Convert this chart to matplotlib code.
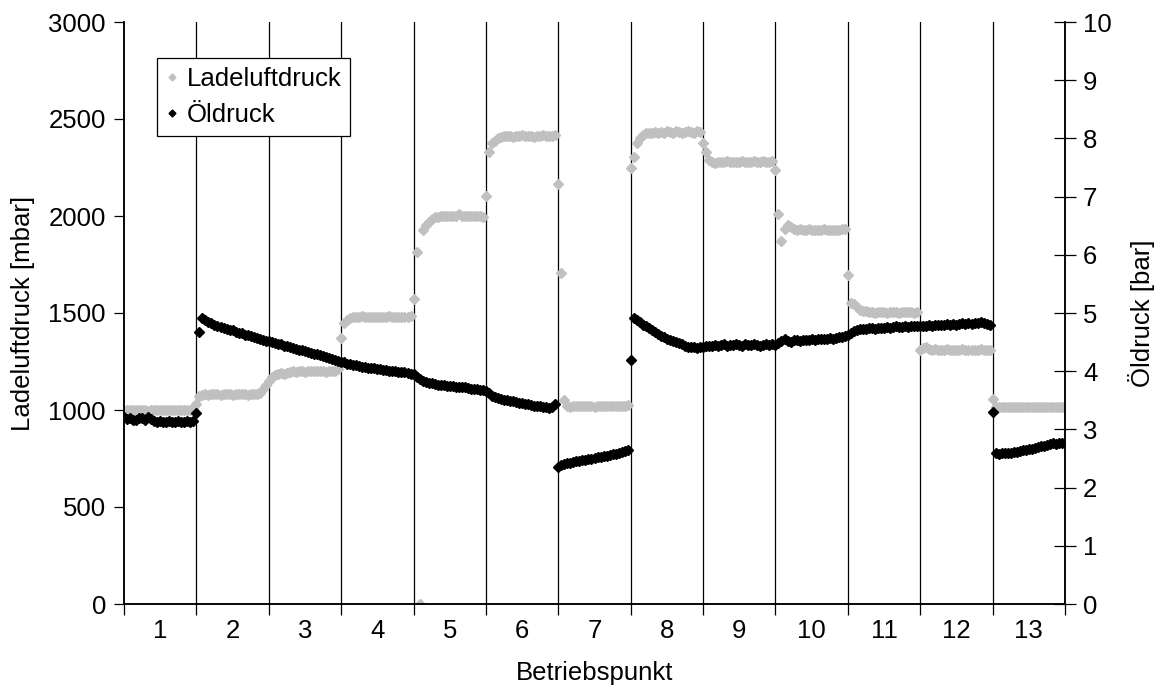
import numpy as np
import matplotlib
matplotlib.use("Agg")
import matplotlib.pyplot as plt
from matplotlib.lines import Line2D

plt.rcParams['font.family'] = ['Liberation Sans', 'DejaVu Sans']

betriebspunkte = [str(i) for i in range(1, 14)]

# Ladeluftdruck [mbar], samples per Betriebspunkt
lade = [
    [995, 1000, 998, 1000, 1002, 998, 1000, 1000, 997, 1000, 1001, 999, 1000, 998, 1000, 1002, 1000, 999, 1000, 998, 1000, 1001, 1000, 1005],
    [1030, 1070, 1078, 1080, 1078, 1080, 1082, 1080, 1079, 1080, 1081, 1080, 1078, 1080, 1080, 1082, 1080, 1079, 1080, 1081, 1085, 1090, 1110, 1130],
    [1150, 1170, 1178, 1185, 1190, 1188, 1192, 1195, 1200, 1198, 1200, 1200, 1198, 1200, 1202, 1200, 1199, 1200, 1200, 1198, 1200, 1201, 1200, 1210],
    [1370, 1450, 1465, 1475, 1480, 1478, 1480, 1482, 1480, 1479, 1480, 1481, 1480, 1478, 1480, 1480, 1482, 1480, 1479, 1480, 1481, 1480, 1480, 1485],
    [1570, 1815, 0, 1930, 1955, 1970, 1985, 1995, 1995, 2000, 1998, 2000, 2002, 2000, 1998, 2010, 2000, 1999, 2000, 2000, 1998, 2000, 2000, 1995],
    [2103, 2330, 2375, 2385, 2400, 2405, 2410, 2412, 2410, 2408, 2412, 2410, 2415, 2410, 2412, 2410, 2408, 2412, 2410, 2418, 2412, 2410, 2412, 2415],
    [2165, 1706, 1050, 1020, 1018, 1020, 1020, 1019, 1020, 1021, 1020, 1020, 1018, 1020, 1020, 1021, 1020, 1019, 1020, 1020, 1021, 1020, 1020, 1025],
    [2247, 2304, 2376, 2400, 2415, 2428, 2430, 2428, 2432, 2430, 2435, 2430, 2438, 2432, 2430, 2440, 2432, 2430, 2435, 2438, 2432, 2430, 2440, 2435],
    [2376, 2330, 2290, 2278, 2275, 2280, 2278, 2280, 2282, 2278, 2280, 2279, 2280, 2282, 2278, 2280, 2280, 2281, 2278, 2280, 2282, 2280, 2278, 2285],
    [2237, 2010, 1871, 1933, 1955, 1945, 1935, 1930, 1935, 1928, 1930, 1932, 1928, 1930, 1930, 1928, 1932, 1930, 1928, 1930, 1930, 1928, 1932, 1935],
    [1696, 1552, 1545, 1530, 1515, 1510, 1508, 1505, 1505, 1502, 1505, 1503, 1505, 1502, 1505, 1503, 1505, 1502, 1505, 1503, 1505, 1505, 1502, 1505],
    [1310, 1322, 1325, 1315, 1310, 1312, 1310, 1308, 1310, 1312, 1310, 1308, 1310, 1310, 1312, 1308, 1310, 1310, 1308, 1310, 1312, 1310, 1308, 1310],
    [1057, 1015, 1015, 1016, 1015, 1014, 1015, 1016, 1015, 1015, 1014, 1015, 1016, 1015, 1015, 1014, 1015, 1016, 1015, 1015, 1014, 1015, 1016, 1015],
]

# Öldruck [bar], samples per Betriebspunkt
oel = [
    [3.22, 3.18, 3.20, 3.17, 3.16, 3.20, 3.19, 3.17, 3.22, 3.18, 3.15, 3.13, 3.14, 3.13, 3.13, 3.14, 3.13, 3.13, 3.14, 3.13, 3.13, 3.14, 3.13, 3.15],
    [3.28, 4.68, 4.92, 4.88, 4.84, 4.82, 4.80, 4.78, 4.76, 4.75, 4.73, 4.71, 4.70, 4.68, 4.66, 4.65, 4.63, 4.62, 4.60, 4.58, 4.57, 4.55, 4.54, 4.52],
    [4.52, 4.50, 4.49, 4.47, 4.46, 4.44, 4.43, 4.42, 4.40, 4.39, 4.37, 4.36, 4.35, 4.33, 4.32, 4.30, 4.29, 4.28, 4.26, 4.25, 4.23, 4.21, 4.20, 4.18],
    [4.16, 4.15, 4.13, 4.12, 4.11, 4.10, 4.09, 4.08, 4.07, 4.06, 4.06, 4.05, 4.04, 4.03, 4.02, 4.02, 4.01, 4.00, 4.00, 3.99, 3.98, 3.98, 3.97, 3.96],
    [3.95, 3.90, 3.86, 3.83, 3.81, 3.80, 3.79, 3.78, 3.77, 3.77, 3.76, 3.75, 3.75, 3.74, 3.73, 3.73, 3.72, 3.72, 3.71, 3.70, 3.70, 3.69, 3.68, 3.68],
    [3.66, 3.62, 3.58, 3.56, 3.54, 3.52, 3.51, 3.50, 3.49, 3.48, 3.47, 3.46, 3.45, 3.44, 3.43, 3.42, 3.41, 3.40, 3.40, 3.39, 3.38, 3.37, 3.38, 3.44],
    [2.36, 2.38, 2.40, 2.42, 2.43, 2.44, 2.45, 2.46, 2.47, 2.48, 2.49, 2.50, 2.51, 2.52, 2.53, 2.54, 2.55, 2.56, 2.57, 2.58, 2.60, 2.61, 2.63, 2.65],
    [4.19, 4.92, 4.88, 4.84, 4.80, 4.77, 4.74, 4.71, 4.68, 4.64, 4.61, 4.58, 4.56, 4.54, 4.52, 4.50, 4.48, 4.46, 4.44, 4.42, 4.42, 4.41, 4.40, 4.41],
    [4.42, 4.43, 4.44, 4.44, 4.45, 4.44, 4.45, 4.46, 4.44, 4.45, 4.45, 4.46, 4.45, 4.44, 4.46, 4.45, 4.45, 4.46, 4.45, 4.44, 4.45, 4.46, 4.45, 4.46],
    [4.45, 4.48, 4.52, 4.56, 4.52, 4.50, 4.53, 4.54, 4.52, 4.53, 4.54, 4.53, 4.55, 4.54, 4.55, 4.56, 4.55, 4.56, 4.57, 4.56, 4.57, 4.58, 4.59, 4.60],
    [4.62, 4.66, 4.69, 4.71, 4.72, 4.72, 4.73, 4.74, 4.74, 4.73, 4.75, 4.75, 4.74, 4.76, 4.75, 4.76, 4.77, 4.76, 4.76, 4.77, 4.76, 4.77, 4.77, 4.77],
    [4.77, 4.78, 4.78, 4.79, 4.78, 4.80, 4.79, 4.80, 4.80, 4.81, 4.80, 4.81, 4.80, 4.81, 4.82, 4.81, 4.82, 4.81, 4.83, 4.82, 4.84, 4.82, 4.81, 4.79],
    [3.30, 2.59, 2.58, 2.59, 2.59, 2.60, 2.60, 2.61, 2.62, 2.63, 2.64, 2.65, 2.66, 2.67, 2.68, 2.70, 2.71, 2.72, 2.74, 2.75, 2.76, 2.75, 2.76, 2.77],
]

def xs(seg_lists):
    out = []
    for i, seg in enumerate(seg_lists):
        n = len(seg)
        out.extend(i + np.arange(n) / n)
    return np.array(out)

fs = 18.5
fig = plt.figure(figsize=(11.69, 6.91), dpi=100)
ax = fig.add_axes([124/1169, 1-604/691, (1065-124)/1169, (604-22)/691])
ax2 = ax.twinx()

for b in range(1, 13):
    ax.axvline(b, color='black', lw=0.9, zorder=0)

gray = '#C0C0C0'
ms = 5.4
ax.plot(xs(lade), np.concatenate(lade), linestyle='none', marker='D', ms=ms,
        color=gray, mec=gray, zorder=2)
ax2.plot(xs(oel), np.concatenate(oel), linestyle='none', marker='D', ms=ms,
         color='black', mec='black', zorder=3)

ax.set_xlim(0, 13)
ax.set_ylim(0, 3000)
ax2.set_ylim(0, 10)
ax.set_yticks(range(0, 3001, 500))
ax2.set_yticks(range(0, 11))

ax.set_xticks(range(0, 14))
ax.set_xticklabels([])
ax.set_xticks(np.arange(13) + 0.5, minor=True)
ax.set_xticklabels(betriebspunkte, minor=True)
ax.tick_params(axis='x', which='major', direction='out', length=8, width=0.9)
ax.tick_params(axis='x', which='minor', length=0, labelsize=fs, pad=11)
ax.tick_params(axis='y', direction='out', length=7, width=0.9, labelsize=fs, pad=6)
ax2.tick_params(axis='y', direction='inout', length=16, width=0.9, labelsize=fs, pad=5)

for a in (ax, ax2):
    a.spines['top'].set_visible(False)
    for s in ('left', 'right', 'bottom'):
        a.spines[s].set_linewidth(1.1)

ax.set_xlabel('Betriebspunkt', fontsize=fs, labelpad=13)
ax.set_ylabel('Ladeluftdruck [mbar]', fontsize=fs, labelpad=10)
ax2.set_ylabel('Öldruck [bar]', fontsize=fs, labelpad=12, rotation=90)

handles = [
    Line2D([], [], linestyle='none', marker='D', ms=3.5, color=gray, mec=gray),
    Line2D([], [], linestyle='none', marker='D', ms=3.5, color='black', mec='black'),
]
leg = ax2.legend(handles, ['Ladeluftdruck', 'Öldruck'], loc='upper left',
                 bbox_to_anchor=((157-124)/941, (604-58)/582), fontsize=fs,
                 frameon=True, fancybox=False, edgecolor='black', framealpha=1,
                 handlelength=0.5, handletextpad=0.3, borderpad=0.35,
                 labelspacing=0.45, borderaxespad=0)
leg.get_frame().set_linewidth(0.9)

fig.savefig('out.png', dpi=100)
